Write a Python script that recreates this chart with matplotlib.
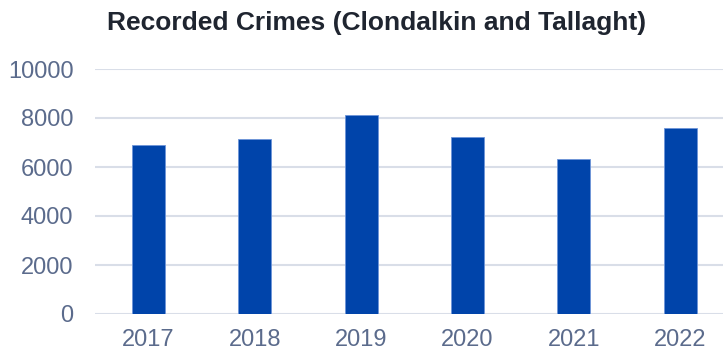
import matplotlib
matplotlib.use("Agg")
import matplotlib.pyplot as plt

years = ["2017", "2018", "2019", "2020", "2021", "2022"]
crimes = [6890, 7160, 8120, 7240, 6310, 7610]
yticks = [0, 2000, 4000, 6000, 8000, 10000]

plt.rcParams['font.family'] = ['Liberation Sans', 'DejaVu Sans']

fig = plt.figure(figsize=(7.23, 3.54), dpi=100)
ax = fig.add_axes([95/723, 40/354, 628/723, 245/354])

x = list(range(len(years)))
ax.bar(x, crimes, width=0.31, color="#0044AA", edgecolor="#6E95D8", linewidth=0.6, zorder=3)

ax.set_xlim(-0.5, 5.4)
ax.set_ylim(0, 10000)
ax.set_yticks(yticks)
ax.set_yticklabels([str(v) for v in yticks])
ax.set_xticks(x)
ax.set_xticklabels(years)
ax.grid(axis="y", color="#D9DEE8", linewidth=1.5, zorder=0)
ax.grid(axis="x", visible=False)
for s in ax.spines.values():
    s.set_visible(False)
ax.tick_params(axis="both", length=0, labelsize=17, labelcolor="#5B6B8C")
ax.tick_params(axis="y", pad=15.5)
ax.tick_params(axis="x", pad=11)

fig.text(377/723, 1 - 23/354, "Recorded Crimes (Clondalkin and Tallaght)",
         ha="center", va="center", fontsize=19, fontweight="bold", color="#1F2530")

fig.savefig("out.png", dpi=100)
